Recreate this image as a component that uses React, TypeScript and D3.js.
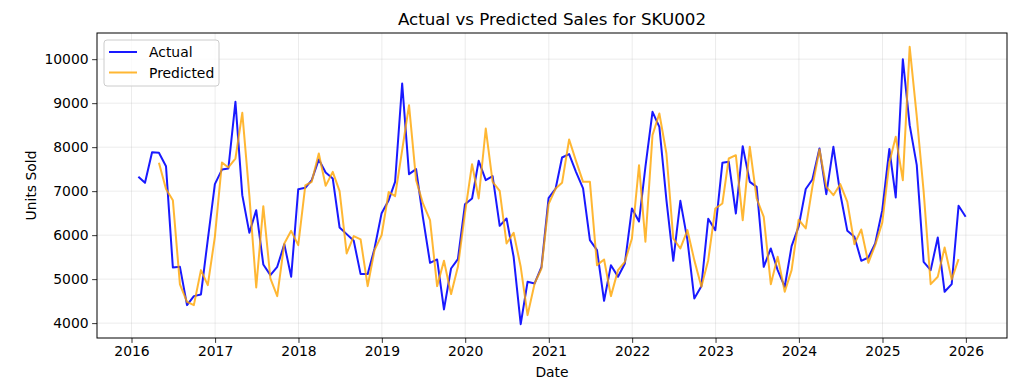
import React, { useEffect, useRef } from 'react';
import * as d3 from 'd3';

// monthly series, month-end dates starting Jan 2016
const startYear = 2016;
const predictedOffset = 3; // first prediction is for Apr 2016

const actualSales = [
  7326, 7189, 7886, 7871, 7568, 5265, 5280, 4409, 4614, 4652, 5900, 7159,
  7490, 7515, 9030, 6909, 6053, 6568, 5333, 5091, 5280, 5795, 5053, 7045,
  7076, 7250, 7720, 7424, 7288, 6174, 6023, 5871, 5114, 5114, 5697, 6500,
  6795, 7212, 9447, 7386, 7500, 6400, 5371, 5447, 4311, 5242, 5455, 6700,
  6833, 7689, 7250, 7341, 6212, 6379, 5508, 3977, 4939, 4902, 5280, 6840,
  7060, 7765, 7841, 7439, 7061, 5886, 5659, 4508, 5318, 5053, 5356, 6606,
  6310, 7553, 8803, 8462, 6795, 5417, 6780, 5886, 4561, 4841, 6371, 6114,
  7644, 7667, 6492, 8023, 7212, 7098, 5280, 5697, 5205, 4826, 5750, 6200,
  7050, 7265, 7970, 6932, 8008, 6947, 6098, 5962, 5417, 5492, 5811, 6568,
  7960, 6856, 10000, 8500, 7591, 5394, 5205, 5947, 4712, 4886, 6667, 6417,
];

const predictedSales = [
  7644, 7050, 6795, 4879, 4485, 4409, 5205, 4864, 5962,
  7650, 7538, 7742, 8780, 6900, 4811, 6659, 5015, 4614, 5811, 6098, 5773,
  7130, 7212, 7856, 7121, 7439, 7000, 5583, 5977, 5902, 4841, 5659, 6000,
  6980, 6886, 7932, 8955, 7250, 6720, 6341, 4841, 5417, 4659, 5280, 6500,
  7614, 6833, 8424, 7212, 7008, 5811, 6053, 5280, 4182, 4902, 5242, 6705,
  7061, 7189, 8174, 7689, 7212, 7212, 5318, 5447, 4614, 5205, 5394, 5924,
  7591, 5849, 8273, 8765, 7856, 5924, 5697, 6114, 5432, 4826, 5432, 6606,
  6720, 7742, 7818, 6341, 8008, 6833, 6417, 4886, 5508, 4712, 5205, 6350,
  6152, 7098, 7947, 7098, 6909, 7159, 6758, 5795, 6129, 5371, 5773, 6285,
  7650, 8235, 7250, 10280, 8700, 7000, 4886, 5053, 5720, 4992, 5455,
];

const yTicks = [4000, 5000, 6000, 7000, 8000, 9000, 10000];
const xTickYears = [2016, 2017, 2018, 2019, 2020, 2021, 2022, 2023, 2024, 2025, 2026];

const monthEnd = (i: number) => new Date(Date.UTC(startYear, i + 1, 0));

const W = 1020;
const H = 385;
const FONT = 'DejaVu Sans, sans-serif';

export default function App() {
  const svgRef = useRef<SVGSVGElement>(null);

  useEffect(() => {
    if (!svgRef.current) return;
    const svg = d3.select(svgRef.current);
    svg.selectAll('*').remove();

    const left = 97, right = 1007, top = 33, bottom = 338;

    const actual = actualSales.map((v, i) => ({ date: monthEnd(i), value: v }));
    const predicted = predictedSales.map((v, i) => ({ date: monthEnd(i + predictedOffset), value: v }));

    const t0 = +actual[0].date;
    const t1 = +actual[actual.length - 1].date;
    const tm = (t1 - t0) * 0.05;
    const x = d3.scaleUtc().domain([new Date(t0 - tm), new Date(t1 + tm)]).range([left, right]);

    const all = [...actualSales, ...predictedSales];
    const vmin = d3.min(all)!, vmax = d3.max(all)!;
    const vm = (vmax - vmin) * 0.05;
    const y = d3.scaleLinear().domain([vmin - vm, vmax + vm]).range([bottom, top]);

    svg.append('rect').attr('width', W).attr('height', H).attr('fill', '#fff');

    // grid
    const grid = svg.append('g').attr('stroke', '#b0b0b0').attr('stroke-opacity', 0.3).attr('stroke-width', 0.8);
    xTickYears.forEach(yr => {
      const px = x(new Date(Date.UTC(yr, 0, 1)));
      grid.append('line').attr('x1', px).attr('x2', px).attr('y1', top).attr('y2', bottom);
    });
    yTicks.forEach(v => {
      grid.append('line').attr('x1', left).attr('x2', right).attr('y1', y(v)).attr('y2', y(v));
    });

    const line = d3.line<{ date: Date; value: number }>()
      .x(d => x(d.date))
      .y(d => y(d.value));

    svg.append('path')
      .datum(actual)
      .attr('d', line)
      .attr('fill', 'none')
      .attr('stroke', 'blue')
      .attr('stroke-opacity', 0.9)
      .attr('stroke-width', 2)
      .attr('stroke-linejoin', 'round');

    svg.append('path')
      .datum(predicted)
      .attr('d', line)
      .attr('fill', 'none')
      .attr('stroke', 'orange')
      .attr('stroke-opacity', 0.8)
      .attr('stroke-width', 2)
      .attr('stroke-linejoin', 'round');

    // frame
    svg.append('rect')
      .attr('x', left).attr('y', top)
      .attr('width', right - left).attr('height', bottom - top)
      .attr('fill', 'none').attr('stroke', '#000').attr('stroke-width', 1);

    // axes
    const xAxis = d3.axisBottom(x)
      .tickValues(xTickYears.map(yr => new Date(Date.UTC(yr, 0, 1))))
      .tickFormat(d => String((d as Date).getUTCFullYear()))
      .tickSize(4.9).tickPadding(3.5);
    svg.append('g')
      .attr('transform', `translate(0,${bottom})`)
      .call(xAxis)
      .call(g => g.select('.domain').remove())
      .call(g => g.selectAll('text').attr('fill', '#000').style('font-size', '13.9px').style('font-family', FONT))
      .call(g => g.selectAll('line').attr('stroke', '#000').attr('stroke-width', 0.8));

    const yAxis = d3.axisLeft(y)
      .tickValues(yTicks)
      .tickFormat(d => String(d))
      .tickSize(4.9).tickPadding(3.5);
    svg.append('g')
      .attr('transform', `translate(${left},0)`)
      .call(yAxis)
      .call(g => g.select('.domain').remove())
      .call(g => g.selectAll('text').attr('fill', '#000').style('font-size', '13.9px').style('font-family', FONT))
      .call(g => g.selectAll('line').attr('stroke', '#000').attr('stroke-width', 0.8));

    // labels
    svg.append('text')
      .attr('x', (left + right) / 2).attr('y', 25)
      .attr('text-anchor', 'middle')
      .style('font-family', FONT).style('font-size', '16.7px')
      .text('Actual vs Predicted Sales for SKU002');

    svg.append('text')
      .attr('x', (left + right) / 2).attr('y', 377)
      .attr('text-anchor', 'middle')
      .style('font-family', FONT).style('font-size', '13.9px')
      .text('Date');

    svg.append('text')
      .attr('transform', `translate(36,${(top + bottom) / 2}) rotate(-90)`)
      .attr('text-anchor', 'middle')
      .style('font-family', FONT).style('font-size', '13.9px')
      .text('Units Sold');

    // legend
    const legend = svg.append('g').attr('transform', `translate(${left + 7},${top + 7})`);
    legend.append('rect')
      .attr('width', 115).attr('height', 46).attr('rx', 3)
      .attr('fill', '#fff').attr('fill-opacity', 0.8)
      .attr('stroke', '#cccccc').attr('stroke-width', 1);
    const items = [
      { label: 'Actual', color: 'blue', op: 0.9 },
      { label: 'Predicted', color: 'orange', op: 0.8 },
    ];
    items.forEach((it, i) => {
      const cy = 12 + i * 20.5;
      legend.append('line')
        .attr('x1', 5).attr('x2', 33).attr('y1', cy).attr('y2', cy)
        .attr('stroke', it.color).attr('stroke-opacity', it.op).attr('stroke-width', 2);
      legend.append('text')
        .attr('x', 45).attr('y', cy + 5)
        .style('font-family', FONT).style('font-size', '13.9px')
        .text(it.label);
    });
  }, []);

  return (
    <svg
      ref={svgRef}
      width={W}
      height={H}
      style={{ position: 'absolute', left: 0, top: 0 }}
    />
  );
}
